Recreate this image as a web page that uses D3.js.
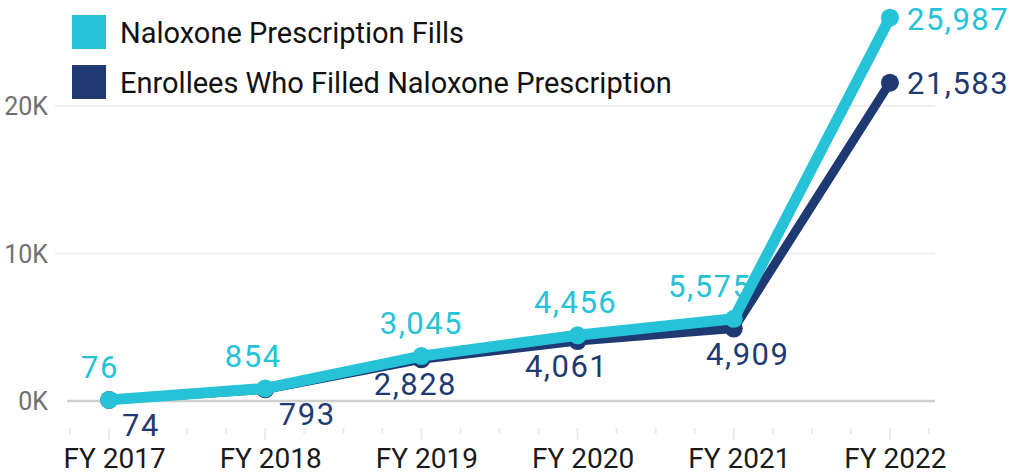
<!DOCTYPE html>
<html>
<head>
<meta charset="utf-8">
<script src="https://cdn.jsdelivr.net/npm/d3@7"></script>
<style>
  body { margin: 0; background: #fff; }
  svg { font-family: Roboto, "Noto Sans", sans-serif; }
</style>
</head>
<body>
<div id="chart"></div>
<script>
// data
const years = ["FY 2017", "FY 2018", "FY 2019", "FY 2020", "FY 2021", "FY 2022"];
const fills = [76, 854, 3045, 4456, 5575, 25987];
const enrollees = [74, 793, 2828, 4061, 4909, 21583];
const yTicks = [0, 10000, 20000];
const seriesNames = ["Naloxone Prescription Fills", "Enrollees Who Filled Naloxone Prescription"];

// label nudges (dx) so the numbers don't sit on the lines
const fillsDx = [-9, -12, 0, -2, -24, 0];
const enrolleesDx = [32, 42, -6, -11, 14, 0];

const width = 1014, height = 475;
const cyan = "#26c2d8", navy = "#1f3a73";

const svg = d3.select("#chart").append("svg")
    .attr("width", width)
    .attr("height", height);

const x = d3.scalePoint()
    .domain(years)
    .range([70, 929])
    .padding(0.25);

const y = d3.scaleLinear()
    .domain([0, 20000])
    .range([401, 106]);

// gridlines
svg.selectAll(".grid")
    .data(yTicks)
    .enter().append("line")
    .attr("class", "grid")
    .attr("x1", d => d === 0 ? 67 : 55)
    .attr("x2", 935)
    .attr("y1", d => y(d))
    .attr("y2", d => y(d))
    .attr("stroke", d => d === 0 ? "#cfcfcf" : "#efefef")
    .attr("stroke-width", d => d === 0 ? 2.5 : 2);

svg.selectAll(".ylab")
    .data(yTicks)
    .enter().append("text")
    .attr("class", "ylab")
    .attr("x", 48)
    .attr("y", d => y(d))
    .attr("dy", "0.36em")
    .attr("text-anchor", "end")
    .attr("fill", "#707070")
    .style("font-size", "25px")
    .text(d => (d / 1000) + "K");

// ticks along the bottom (major on categories, minor at quarter steps)
const step = x.step();
const tickPos = [];
for (let i = -1; i <= years.length * 4 - 3; i++) tickPos.push({ pos: x(years[0]) + i * step / 4, major: i % 4 === 0 });
svg.selectAll(".tick")
    .data(tickPos)
    .enter().append("line")
    .attr("x1", d => d.pos).attr("x2", d => d.pos)
    .attr("y1", 428)
    .attr("y2", d => d.major ? 440 : 434)
    .attr("stroke", "#eaeaea")
    .attr("stroke-width", 2);

const xAxis = d3.axisBottom(x).tickSize(0).tickPadding(0);
const xAxisGroup = svg.append("g")
    .attr("transform", "translate(5,468)")
    .call(xAxis);
xAxisGroup.select(".domain").remove();
xAxisGroup.selectAll("text")
    .attr("dy", "0")
    .attr("fill", "#1a1a1a")
    .style("font-size", "28px")
    .style("font-family", "Roboto, sans-serif");

// lines
const line = d3.line()
    .x((d, i) => x(years[i]))
    .y(d => y(d));

svg.append("path")
    .datum(enrollees)
    .attr("d", line)
    .attr("fill", "none")
    .attr("stroke", navy)
    .attr("stroke-width", 9)
    .attr("stroke-linejoin", "round");

svg.selectAll(".dotE")
    .data(enrollees)
    .enter().append("circle")
    .attr("cx", (d, i) => x(years[i]))
    .attr("cy", d => y(d))
    .attr("r", 9)
    .attr("fill", navy);

svg.append("path")
    .datum(fills)
    .attr("d", line)
    .attr("fill", "none")
    .attr("stroke", cyan)
    .attr("stroke-width", 11)
    .attr("stroke-linejoin", "round");

svg.selectAll(".dotF")
    .data(fills)
    .enter().append("circle")
    .attr("cx", (d, i) => x(years[i]))
    .attr("cy", d => y(d))
    .attr("r", 9)
    .attr("fill", cyan);

// value labels
const fmt = d3.format(",");
const last = years.length - 1;

svg.selectAll(".labF")
    .data(fills)
    .enter().append("text")
    .attr("x", (d, i) => i === last ? x(years[i]) + 17 : x(years[i]) + fillsDx[i])
    .attr("y", (d, i) => i === last ? y(d) + 1 : y(d) - 33)
    .attr("dy", "0.36em")
    .attr("text-anchor", (d, i) => i === last ? "start" : "middle")
    .attr("fill", cyan)
    .style("font-size", "31px")
    .style("letter-spacing", "1.5px")
    .text(d => fmt(d));

svg.selectAll(".labE")
    .data(enrollees)
    .enter().append("text")
    .attr("x", (d, i) => i === last ? x(years[i]) + 17 : x(years[i]) + enrolleesDx[i])
    .attr("y", (d, i) => i === last ? y(d) : y(d) + 25)
    .attr("dy", "0.36em")
    .attr("text-anchor", (d, i) => i === last ? "start" : "middle")
    .attr("fill", navy)
    .style("font-size", "31px")
    .style("letter-spacing", "1.5px")
    .text(d => fmt(d));

// legend
const legend = svg.selectAll(".legend")
    .data(seriesNames)
    .enter().append("g")
    .attr("transform", (d, i) => "translate(72," + (15 + i * 50) + ")");
legend.append("rect")
    .attr("width", 34)
    .attr("height", 34)
    .attr("fill", (d, i) => i === 0 ? cyan : navy);
legend.append("text")
    .attr("x", 48)
    .attr("y", 18)
    .attr("dy", "0.36em")
    .attr("fill", "#111")
    .style("font-size", "29px")
    .text(d => d);
</script>
</body>
</html>
